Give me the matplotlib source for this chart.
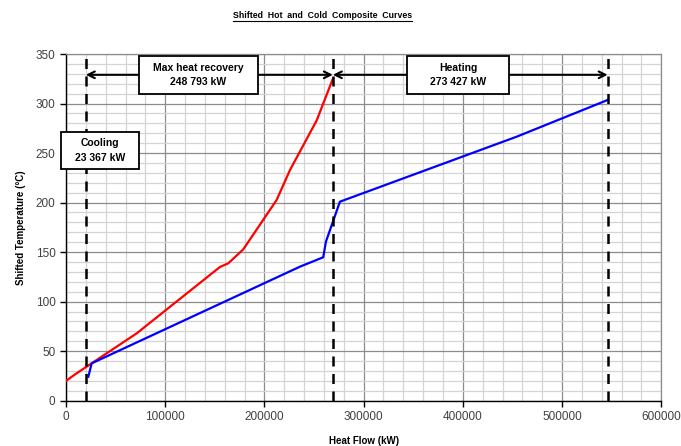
import matplotlib.pyplot as plt
from matplotlib.patches import Rectangle
from matplotlib.ticker import MultipleLocator

plt.rcParams['font.family'] = ['Liberation Sans', 'DejaVu Sans']

# Hot composite curve (shifted), heat flow in kW vs temperature in C
hot_q = [0, 10800, 71300, 155200, 163600, 178700, 212300, 225800, 252700, 269000]
hot_t = [20, 27.7, 68, 135, 138.7, 152.8, 202.6, 232.9, 283, 325]

# Cold composite curve (shifted)
cold_q = [22500, 25900, 235800, 259300, 262000, 276100, 454200, 546000]
cold_t = [24.2, 37.7, 135.3, 144.8, 160.5, 200.9, 266.5, 303.6]

# Pinch / utility boundaries
bounds_q = [20000, 269000, 546000]
cooling = '23 367'
recovery = '248 793'
heating = '273 427'

fig = plt.figure(figsize=(6.81, 4.46), dpi=100)
ax = fig.add_axes([0.0969, 0.1016, 0.8741, 0.7773])

ax.plot(hot_q, hot_t, color='#ff0000', lw=1.6, zorder=4)
ax.plot(cold_q, cold_t, color='#0000ff', lw=1.6, zorder=4)

for q in bounds_q:
    ax.axvline(q, color='black', lw=1.8, ls=(0, (4, 3)), zorder=5)

arrow_y = 329
arrow = dict(arrowstyle='<->', color='black', lw=1.5,
             shrinkA=0, shrinkB=0, mutation_scale=12)
ax.annotate('', xy=(bounds_q[0], arrow_y), xytext=(bounds_q[1], arrow_y),
            arrowprops=arrow, zorder=5)
ax.annotate('', xy=(bounds_q[1], arrow_y), xytext=(bounds_q[2], arrow_y),
            arrowprops=arrow, zorder=5)


def label_box(x0, x1, y0, y1, text):
    ax.add_patch(Rectangle((x0, y0), x1 - x0, y1 - y0, fc='white', ec='black',
                           lw=1.3, zorder=6, clip_on=False))
    ax.text((x0 + x1) / 2, (y0 + y1) / 2, text, ha='center', va='center',
            fontsize=7.5, fontweight='bold', zorder=7, linespacing=1.55)


label_box(73300, 193900, 309.6, 348, 'Max heat recovery\n' + recovery + ' kW')
label_box(344000, 446200, 309.6, 348, 'Heating\n' + heating + ' kW')
label_box(-5000, 73600, 233.6, 271.6, 'Cooling\n' + cooling + ' kW')

ax.set_xlim(0, 600000)
ax.set_ylim(0, 350)
ax.xaxis.set_major_locator(MultipleLocator(100000))
ax.xaxis.set_minor_locator(MultipleLocator(20000))
ax.yaxis.set_major_locator(MultipleLocator(50))
ax.yaxis.set_minor_locator(MultipleLocator(10))
ax.grid(which='minor', color='#d4d4d4', lw=0.9)
ax.grid(which='major', color='#8c8c8c', lw=0.9)
ax.set_axisbelow(True)
ax.tick_params(which='minor', length=0)
ax.tick_params(which='major', length=4, width=1, direction='out',
               labelsize=8.5, labelcolor='#404040', color='black')

for side in ['top', 'right']:
    ax.spines[side].set_color('#8c8c8c')
    ax.spines[side].set_linewidth(0.9)
for side in ['left', 'bottom']:
    ax.spines[side].set_color('black')
    ax.spines[side].set_linewidth(1.0)

ax.set_xlabel('Heat Flow (kW)', fontsize=7, fontweight='bold', labelpad=9)
ax.set_ylabel('Shifted Temperature (°C)', fontsize=7, fontweight='bold', labelpad=7)

title = fig.text(0.474, 0.966, 'Shifted  Hot  and  Cold  Composite  Curves', ha='center', va='center',
                 fontsize=6.3, fontweight='bold',
                 family=['Liberation Sans Narrow', 'Liberation Sans'])
fig.canvas.draw()
bb = title.get_window_extent().transformed(fig.transFigure.inverted())
fig.add_artist(plt.Line2D([bb.x0, bb.x1], [bb.y0 - 0.002, bb.y0 - 0.002], color='black', lw=0.8))

fig.savefig('out.png', dpi=100)
